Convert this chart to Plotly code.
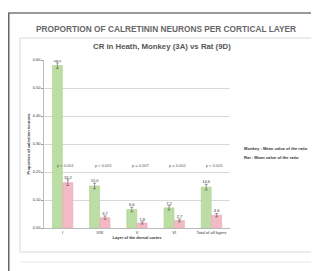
import plotly.graph_objects as go

layers = ["I", "II/III", "V", "VI", "Total of all layers"]
monkey = [0.580, 0.150, 0.066, 0.072, 0.146]
rat = [0.162, 0.037, 0.018, 0.027, 0.046]
monkey_err = [0.010, 0.010, 0.008, 0.008, 0.010]
rat_err = [0.010, 0.006, 0.004, 0.005, 0.006]
pvals = ["p < 0.001", "p < 0.001", "p = 0.007", "p = 0.002", "p < 0.001"]
yticks = [0.0, 0.1, 0.2, 0.3, 0.4, 0.5, 0.6]

# page body has an 8px margin; work in screen pixels and shift
OFF = 8
W, H = 319 - OFF, 271 - OFF
L, R, T, B = 44, 230, 60, 228  # screen pixels of plot area

def px(x):
    return (x - L) / (R - L)

def py(y):
    return (B - y) / (B - T)

xi = list(range(len(layers)))
off = 0.14
bw = 0.27
green = "#bcdda3"
pink = "#f3b9c4"

fig = go.Figure()
fig.add_trace(go.Bar(x=[i - off for i in xi], y=monkey, width=bw, name="Monkey",
                     marker=dict(color=green, line=dict(color="#a6cf8a", width=0.5)),
                     error_y=dict(type="data", array=monkey_err, color="#555", thickness=0.6, width=1.5)))
fig.add_trace(go.Bar(x=[i + off for i in xi], y=rat, width=bw, name="Rat",
                     marker=dict(color=pink, line=dict(color="#e9a4b2", width=0.5)),
                     error_y=dict(type="data", array=rat_err, color="#555", thickness=0.6, width=1.5)))
fig.add_trace(go.Scatter(x=[i - off for i in xi], y=[v + e for v, e in zip(monkey, monkey_err)],
                         mode="text", text=[f"{v*100:.1f}" for v in monkey], textposition="top center",
                         textfont=dict(size=4, color="#333"), hoverinfo="skip"))
fig.add_trace(go.Scatter(x=[i + off for i in xi], y=[v + e for v, e in zip(rat, rat_err)],
                         mode="text", text=[f"{v*100:.1f}" for v in rat], textposition="top center",
                         textfont=dict(size=4, color="#333"), hoverinfo="skip"))

for i, p in zip(xi, pvals):
    fig.add_annotation(x=i + 0.1, y=py(165), yref="paper", yanchor="middle", text=p,
                       showarrow=False, font=dict(size=4, color="#555"))

shapes = [
    dict(type="rect", x0=px(20), x1=px(312), y0=py(38), y1=py(252), xref="paper", yref="paper",
         line=dict(color="#d8d8d8", width=1), layer="below"),
    dict(type="line", x0=px(8.5), x1=px(8.5), y0=py(13), y1=py(275), xref="paper", yref="paper",
         line=dict(color="#666", width=2)),
    dict(type="line", x0=px(8), x1=px(316), y0=py(13), y1=py(13), xref="paper", yref="paper",
         line=dict(color="#777", width=1.5)),
    dict(type="line", x0=px(316), x1=px(316), y0=py(13), y1=py(275), xref="paper", yref="paper",
         line=dict(color="#ccc", width=1)),
    dict(type="line", x0=px(20), x1=px(312), y0=py(262), y1=py(262), xref="paper", yref="paper",
         line=dict(color="#e6e6e6", width=1)),
]

fig.add_annotation(x=px(166), y=py(28.5), xref="paper", yref="paper",
                   xanchor="center", yanchor="middle",
                   text="<b>PROPORTION OF CALRETININ NEURONS PER CORTICAL LAYER</b>",
                   showarrow=False, font=dict(size=8.3, color="#666", family="Arial"))
fig.add_annotation(x=px(162), y=py(46.5), xref="paper", yref="paper",
                   xanchor="center", yanchor="middle",
                   text="<b>CR in Heath, Monkey (3A) vs Rat (9D)</b>",
                   showarrow=False, font=dict(size=7.8, color="#555", family="Arial"))
fig.add_annotation(x=px(242), y=py(148), xref="paper", yref="paper",
                   xanchor="left", yanchor="middle",
                   text="<b>Monkey : Mean value of the ratio</b>", showarrow=False,
                   font=dict(size=4.1, color="#333", family="Arial"))
fig.add_annotation(x=px(242), y=py(157), xref="paper", yref="paper",
                   xanchor="left", yanchor="middle",
                   text="<b>Rat : Mean value of the ratio</b>", showarrow=False,
                   font=dict(size=4.1, color="#333", family="Arial"))

fig.update_layout(
    width=W, height=H,
    margin=dict(l=L - OFF, r=W - (R - OFF), t=T - OFF, b=H - (B - OFF)),
    paper_bgcolor="white", plot_bgcolor="white", showlegend=False,
    barmode="overlay", shapes=shapes,
    font=dict(family="Arial", size=4, color="#333"),
)
fig.update_xaxes(tickvals=xi, ticktext=layers, range=[-0.5, 4.5], showgrid=False,
                 showline=True, linecolor="#bbb", linewidth=0.5, tickfont=dict(size=4),
                 title=dict(text="<b>Layer of the dorsal cortex</b>", font=dict(size=4), standoff=2))
fig.update_yaxes(range=[0, 0.6], tickvals=yticks, tickformat=".2f", showgrid=True,
                 gridcolor="#d9d9d9", gridwidth=1, showline=True, linecolor="#bbb", linewidth=0.5,
                 ticks="outside", ticklen=2, tickcolor="#999", tickfont=dict(size=4),
                 zeroline=False,
                 title=dict(text="<b>Proportion of calretinin neurons</b>", font=dict(size=4), standoff=2))

fig.write_html("out.html")
